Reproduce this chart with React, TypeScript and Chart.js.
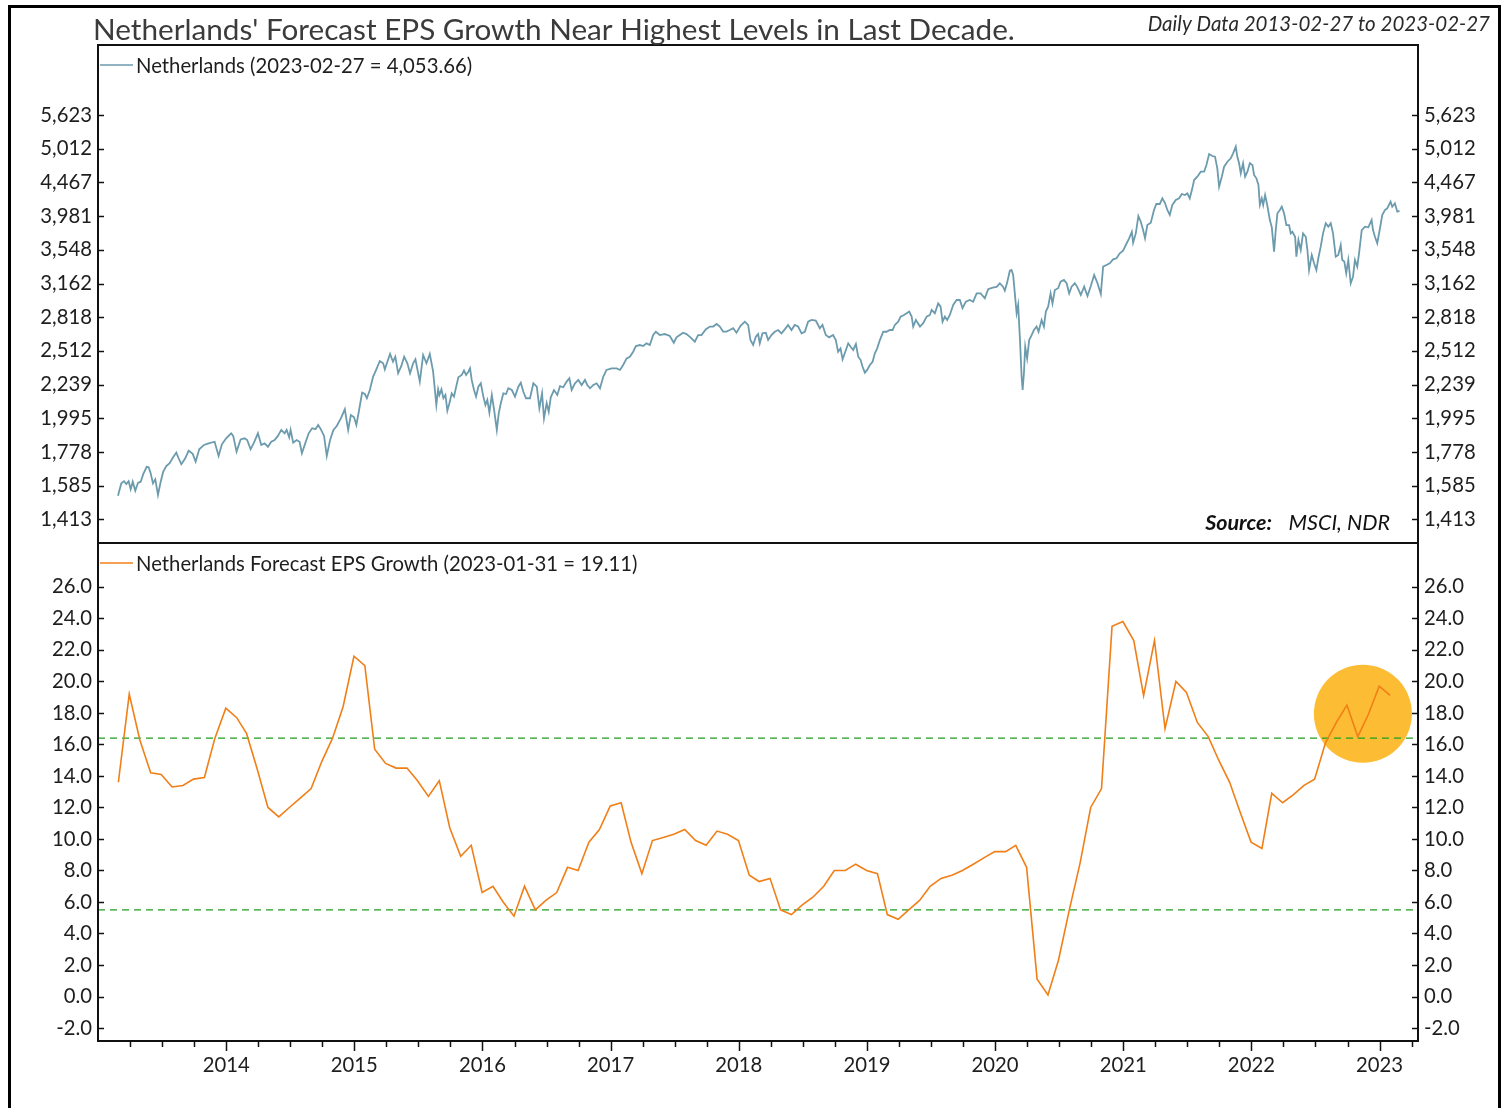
import React, { useEffect, useRef } from "react";
import { Chart, registerables } from "chart.js";
Chart.register(...registerables);

const FONT = "Lato, 'Noto Sans', sans-serif";

// ---------- Top panel: Netherlands index (log scale), dates as decimal years ----------
const indexDates = [
  2013.156, 2013.161, 2013.182, 2013.203, 2013.221, 2013.239, 2013.255, 2013.271, 2013.291, 2013.312,
  2013.333, 2013.353, 2013.380, 2013.395, 2013.411, 2013.429, 2013.447, 2013.468, 2013.489, 2013.509,
  2013.533, 2013.559, 2013.585, 2013.611, 2013.629, 2013.650, 2013.681, 2013.707, 2013.739, 2013.762,
  2013.790, 2013.827, 2013.863, 2013.910, 2013.941, 2013.967, 2014.000, 2014.039, 2014.055, 2014.081,
  2014.113, 2014.144, 2014.164, 2014.191, 2014.217, 2014.248, 2014.274, 2014.300, 2014.326, 2014.352,
  2014.378, 2014.404, 2014.430, 2014.456, 2014.472, 2014.492, 2014.503, 2014.523, 2014.550, 2014.573,
  2014.591, 2014.617, 2014.644, 2014.671, 2014.697, 2014.718, 2014.738, 2014.764, 2014.785, 2014.811,
  2014.837, 2014.863, 2014.895, 2014.926, 2014.952, 2014.973, 2014.998, 2015.016, 2015.035, 2015.061,
  2015.082, 2015.098, 2015.121, 2015.147, 2015.172, 2015.199, 2015.225, 2015.238, 2015.258, 2015.279,
  2015.302, 2015.320, 2015.342, 2015.367, 2015.389, 2015.414, 2015.435, 2015.459, 2015.477, 2015.511,
  2015.537, 2015.563, 2015.589, 2015.615, 2015.640, 2015.654,
  2015.664, 2015.680, 2015.695, 2015.711, 2015.726, 2015.742, 2015.760, 2015.778, 2015.794, 2015.812,
  2015.838, 2015.856, 2015.872, 2015.890, 2015.903, 2015.916, 2015.934, 2015.950, 2015.968, 2015.987,
  2016.007, 2016.023, 2016.038, 2016.054, 2016.073, 2016.091, 2016.112, 2016.127, 2016.143, 2016.163,
  2016.184, 2016.202, 2016.229, 2016.254, 2016.280, 2016.299, 2016.319, 2016.340, 2016.371, 2016.397,
  2016.424, 2016.444, 2016.465, 2016.480, 2016.501, 2016.517, 2016.533, 2016.558, 2016.584, 2016.605,
  2016.631, 2016.657, 2016.678, 2016.696, 2016.722, 2016.748, 2016.774, 2016.800, 2016.818, 2016.839,
  2016.865, 2016.891, 2016.917, 2016.943, 2016.968, 2017.008, 2017.047, 2017.073, 2017.098, 2017.125,
  2017.150, 2017.176, 2017.197, 2017.228, 2017.254, 2017.280, 2017.306, 2017.332, 2017.353, 2017.384,
  2017.423, 2017.462, 2017.493, 2017.514, 2017.540, 2017.566, 2017.592, 2017.623, 2017.657, 2017.683,
  2017.709, 2017.744, 2017.775, 2017.800, 2017.827, 2017.852, 2017.878, 2017.904, 2017.930, 2017.956,
  2017.982, 2018.014, 2018.047, 2018.073, 2018.091, 2018.112, 2018.133, 2018.151,
  2018.164, 2018.185, 2018.211, 2018.229, 2018.255, 2018.281, 2018.307, 2018.333, 2018.359, 2018.385,
  2018.411, 2018.437, 2018.463, 2018.490, 2018.515, 2018.541, 2018.568, 2018.601, 2018.632, 2018.653,
  2018.679, 2018.705, 2018.736, 2018.757, 2018.775, 2018.794, 2018.810, 2018.836, 2018.854, 2018.873,
  2018.893, 2018.914, 2018.932, 2018.951, 2018.966, 2018.984, 2019.002, 2019.023, 2019.044, 2019.062,
  2019.080, 2019.101, 2019.127, 2019.153, 2019.179, 2019.200, 2019.218, 2019.244, 2019.263, 2019.289,
  2019.310, 2019.330, 2019.349, 2019.361, 2019.382, 2019.414, 2019.439, 2019.466, 2019.491, 2019.505,
  2019.530, 2019.556, 2019.575, 2019.590, 2019.608, 2019.626, 2019.647, 2019.673, 2019.700, 2019.725,
  2019.746, 2019.772, 2019.803, 2019.829, 2019.856, 2019.887, 2019.920, 2019.946, 2019.981, 2020.012,
  2020.037, 2020.063, 2020.076, 2020.094, 2020.115, 2020.128, 2020.141, 2020.154, 2020.168, 2020.180,
  2020.194, 2020.207, 2020.215, 2020.225, 2020.235, 2020.250, 2020.266, 2020.285, 2020.303, 2020.324,
  2020.339, 2020.363, 2020.381, 2020.396, 2020.414, 2020.433, 2020.448, 2020.466, 2020.492, 2020.511,
  2020.537, 2020.558, 2020.578, 2020.597, 2020.622, 2020.640,
  2020.669, 2020.695, 2020.721, 2020.747, 2020.773, 2020.799, 2020.825, 2020.843, 2020.869, 2020.895,
  2020.921, 2020.947, 2020.973, 2020.999, 2021.020, 2021.046, 2021.067, 2021.077, 2021.098, 2021.118,
  2021.137, 2021.155, 2021.170, 2021.188, 2021.215, 2021.240, 2021.258, 2021.285, 2021.305, 2021.326,
  2021.344, 2021.363, 2021.383, 2021.410, 2021.436, 2021.457, 2021.482, 2021.500, 2021.519, 2021.539,
  2021.553, 2021.578, 2021.605, 2021.631, 2021.649, 2021.670, 2021.695, 2021.716, 2021.734, 2021.748,
  2021.769, 2021.787, 2021.813, 2021.839, 2021.857, 2021.878, 2021.891, 2021.904, 2021.917, 2021.935,
  2021.951, 2021.969, 2021.988, 2022.008, 2022.021, 2022.039, 2022.055, 2022.066, 2022.081, 2022.092,
  2022.107, 2022.125, 2022.144, 2022.159, 2022.177, 2022.190, 2022.203, 2022.222, 2022.237, 2022.255,
  2022.273, 2022.294, 2022.307, 2022.320, 2022.341, 2022.351, 2022.367, 2022.385, 2022.403, 2022.424,
  2022.437, 2022.450, 2022.471, 2022.489, 2022.507, 2022.522, 2022.541, 2022.559, 2022.580, 2022.600,
  2022.619, 2022.637, 2022.658, 2022.678, 2022.697, 2022.709, 2022.725, 2022.740, 2022.756, 2022.775,
  2022.793, 2022.808, 2022.826, 2022.840, 2022.861, 2022.886, 2022.912, 2022.938, 2022.949, 2022.964,
  2022.982, 2023.001, 2023.021, 2023.042, 2023.060, 2023.086, 2023.099, 2023.120, 2023.138, 2023.156,
];

const indexValues = [
  1532, 1545, 1598, 1610, 1594, 1610, 1566, 1607, 1558, 1601,
  1607, 1649, 1691, 1688, 1654, 1598, 1620, 1536, 1607, 1663,
  1695, 1712, 1745, 1775, 1741, 1706, 1741, 1787, 1767, 1721,
  1795, 1822, 1832, 1842, 1755, 1826, 1864, 1896, 1879, 1781,
  1857, 1864, 1853, 1795, 1836, 1896, 1822, 1832, 1811, 1842,
  1853, 1879, 1918, 1896, 1918, 1870, 1918, 1836, 1853, 1842,
  1771, 1832, 1896, 1929, 1923, 1951, 1923, 1879, 1755, 1853,
  1918, 1944, 1995, 2058, 1918, 2018, 2002, 1951, 2041, 2178,
  2168, 2137, 2198, 2301, 2359, 2427, 2408, 2359, 2421, 2486,
  2421, 2463, 2328, 2386, 2463, 2408, 2328, 2408, 2441, 2262,
  2477, 2408, 2486, 2340, 2089, 2203,
  2161, 2203, 2137, 2161, 2048, 2101, 2173, 2149, 2219, 2296,
  2314, 2349, 2314, 2340, 2367, 2275, 2198, 2149, 2223, 2249,
  2149, 2089, 2125, 2034, 2161, 2053, 1918, 2030, 2101, 2173,
  2168, 2211, 2198, 2149, 2223, 2254, 2185, 2137, 2137, 2249,
  2223, 2066, 2173, 1995, 2101, 2041, 2144, 2198, 2161, 2228,
  2219, 2262, 2288, 2198, 2249, 2275, 2236, 2275, 2236, 2211,
  2236, 2249, 2211, 2301, 2354, 2367, 2367, 2354, 2394, 2449,
  2463, 2505, 2554, 2563, 2554, 2578, 2563, 2652, 2682, 2652,
  2661, 2643, 2583, 2631, 2652, 2673, 2661, 2631, 2592, 2652,
  2652, 2705, 2730, 2730, 2754, 2730, 2684, 2684, 2698, 2714,
  2673, 2736, 2776, 2745, 2607, 2563, 2637, 2661,
  2578, 2667, 2673, 2607, 2652, 2682, 2698, 2667, 2704, 2745,
  2698, 2745, 2730, 2667, 2682, 2776, 2792, 2786, 2714, 2745,
  2652, 2631, 2652, 2607, 2505, 2534, 2441, 2520, 2578, 2548,
  2520, 2572, 2463, 2435, 2380, 2332, 2354, 2394, 2421, 2492,
  2534, 2607, 2682, 2682, 2698, 2698, 2745, 2776, 2824, 2840,
  2857, 2873, 2824, 2730, 2792, 2730, 2761, 2824, 2840, 2889,
  2857, 2955, 2922, 2776, 2824, 2792, 2840, 2939, 2989, 2989,
  2906, 2972, 2989, 2972, 3058, 3058, 3007, 3101, 3119, 3126,
  3165, 3126, 3086, 3172, 3304, 3312, 3256, 3058, 2857, 2939,
  2613, 2301, 2198, 2328, 2548, 2449, 2607, 2652, 2698, 2730,
  2682, 2792, 2730, 2873, 2922, 3058, 2955, 3093, 3112, 3183,
  3201, 3165, 3058, 3129, 3165, 3129,
  3041, 3129, 3031, 3136, 3256, 3165, 3051, 3350, 3369, 3389,
  3435, 3447, 3506, 3538, 3607, 3690, 3774, 3635, 3753, 3982,
  3905, 3796, 3690, 3861, 3892, 4065, 4149, 4149, 4230, 4162,
  4065, 3996, 4135, 4206, 4230, 4293, 4278, 4303, 4230, 4377,
  4503, 4555, 4633, 4633, 4740, 4921, 4888, 4877, 4687, 4401,
  4555, 4713, 4794, 4850, 4933, 5046, 4867, 4768, 4608, 4768,
  4555, 4633, 4768, 4740, 4581, 4530, 4427, 4135, 4230, 4135,
  4278, 4121, 3928, 3834, 3526, 3796, 4019, 4065, 4111, 4019,
  3861, 3861, 3753, 3774, 3710, 3466, 3669, 3546, 3753, 3710,
  3546, 3312, 3486, 3389, 3312, 3447, 3586, 3753, 3885, 3840,
  3885, 3753, 3466, 3486, 3607, 3427, 3408, 3275, 3427, 3165,
  3237, 3427, 3350, 3506, 3796, 3840, 3832, 3928, 3796, 3710,
  3629, 3796, 3996, 4065, 4088, 4182, 4111, 4158, 4042, 4053.66,
];

const indexTicks = [1413, 1585, 1778, 1995, 2239, 2512, 2818, 3162, 3548, 3981, 4467, 5012, 5623];

// ---------- Bottom panel: monthly forecast EPS growth, Feb 2013 .. Jan 2023 ----------
const epsStartYear = 2013;
const epsStartMonth = 2; // February
const epsValues = [
  13.6, 19.2, 16.3, 14.2, 14.1, 13.3, 13.4, 13.8, 13.9, 16.4, 18.3,
  17.7, 16.7, 14.4, 12.0, 11.4, 12.0, 12.6, 13.2, 14.9, 16.4, 18.4, 21.6,
  21.0, 15.7, 14.8, 14.5, 14.5, 13.7, 12.7, 13.7, 10.7, 8.9, 9.6, 6.6,
  7.0, 6.0, 5.1, 7.0, 5.5, 6.1, 6.6, 8.2, 8.0, 9.8, 10.6, 12.1,
  12.3, 9.8, 7.8, 9.9, 10.1, 10.3, 10.6, 9.9, 9.6, 10.5, 10.3, 9.9,
  7.7, 7.3, 7.5, 5.5, 5.2, 5.8, 6.3, 7.0, 8.0, 8.0, 8.4, 8.0,
  7.8, 5.2, 4.9, 5.5, 6.1, 7.0, 7.5, 7.7, 8.0, 8.4, 8.8, 9.2,
  9.2, 9.6, 8.2, 1.1, 0.1, 2.3, 5.5, 8.5, 12.0, 13.2, 23.5, 23.8,
  22.6, 19.1, 22.6, 17.0, 20.0, 19.3, 17.4, 16.5, 15.0, 13.6, 11.7, 9.8,
  9.4, 12.9, 12.3, 12.8, 13.4, 13.8, 16.1, 17.4, 18.5, 16.5, 17.9, 19.7,
  19.11,
];
const epsTicks = [-2, 0, 2, 4, 6, 8, 10, 12, 14, 16, 18, 20, 22, 24, 26];
const epsUpperBand = 16.4;
const epsLowerBand = 5.5;
const highlightDate = 2022.87;
const highlightValue = 17.95;

const yearTicks = [2014, 2015, 2016, 2017, 2018, 2019, 2020, 2021, 2022, 2023];
const X_MIN = 2013.0;
const X_MAX = 2023.3;

const TOP_MIN = Math.pow(10, 3.1151);
const TOP_MAX = Math.pow(10, 3.8538);
const BOT_MIN = -2.825;
const BOT_MAX = 28.79;

const INDEX_COLOR = "#6c9bae";
const EPS_COLOR = "#f07f17";
const BAND_COLOR = "#1f9e1f";
const LABEL_SIZE = 20.3;

function yearFrac(y: number, m: number, d: number) {
  const s = new Date(y, 0, 1).getTime();
  const e = new Date(y + 1, 0, 1).getTime();
  return y + (new Date(y, m - 1, d).getTime() - s) / (e - s);
}
function monthEndFrac(i: number) {
  const m0 = epsStartMonth - 1 + i;
  const y = epsStartYear + Math.floor(m0 / 12);
  const m = (m0 % 12) + 1;
  const last = new Date(y, m, 0).getDate();
  return yearFrac(y, m, last);
}

const W = 1509;
const TOP_H = 575;
const BOT_TOP = 515;
const BOT_H = 1108 - BOT_TOP;
const AREA_LEFT = 98;
const AREA_RIGHT = 1418;

function line(ctx: CanvasRenderingContext2D, x1: number, y1: number, x2: number, y2: number) {
  ctx.beginPath();
  ctx.moveTo(x1, y1);
  ctx.lineTo(x2, y2);
  ctx.stroke();
}

function yAxis(position: "left" | "right", type: string, min: number, max: number, ticks: number[], fmt: (v: number) => string) {
  return {
    type,
    position,
    min,
    max,
    afterFit: (s: any) => {
      s.width = position === "left" ? AREA_LEFT : W - AREA_RIGHT;
    },
    afterBuildTicks: (s: any) => {
      s.ticks = ticks.map((v) => ({ value: v }));
    },
    ticks: {
      autoSkip: false,
      callback: (v: any) => fmt(Number(v)),
      font: { family: FONT, size: LABEL_SIZE },
      color: "#1e1e1e",
      padding: 6,
    },
    grid: { display: false, drawTicks: false },
    border: { display: false },
  };
}

function drawFrameAndYTicks(chart: any, scaleId: string) {
  const { ctx, chartArea: a } = chart;
  const s = chart.scales[scaleId];
  ctx.save();
  ctx.strokeStyle = "#111";
  ctx.lineWidth = 1.5;
  for (const t of s.ticks) {
    const y = Math.round(s.getPixelForValue(t.value)) + 0.5;
    line(ctx, a.left, y, a.left + 6, y);
    line(ctx, a.right - 6, y, a.right, y);
  }
  ctx.lineWidth = 2;
  ctx.strokeRect(a.left, a.top, a.right - a.left, a.bottom - a.top);
  ctx.restore();
}

function drawLegend(ctx: CanvasRenderingContext2D, y: number, color: string, text: string) {
  ctx.save();
  ctx.strokeStyle = color;
  ctx.lineWidth = 1.5;
  line(ctx, 100, y, 133, y);
  ctx.fillStyle = "#1e1e1e";
  ctx.font = `${LABEL_SIZE}px ${FONT}`;
  ctx.textBaseline = "middle";
  ctx.textAlign = "left";
  ctx.fillText(text, 136, y + 1);
  ctx.restore();
}

const topDecor = {
  id: "topDecor",
  afterDraw(chart: any) {
    const { ctx } = chart;
    drawFrameAndYTicks(chart, "yL");
    ctx.save();
    ctx.fillStyle = "#3b3b3b";
    ctx.font = `29.7px ${FONT}`;
    ctx.textBaseline = "alphabetic";
    ctx.textAlign = "left";
    ctx.fillText("Netherlands' Forecast EPS Growth Near Highest Levels in Last Decade.", 93, 40);
    ctx.font = `italic 20.5px ${FONT}`;
    ctx.textAlign = "right";
    ctx.fillStyle = "#2a2a2a";
    ctx.fillText("Daily Data 2013-02-27 to 2023-02-27", 1490, 31);
    // source
    ctx.fillStyle = "#111";
    ctx.font = `italic 21.5px ${FONT}`;
    ctx.fillText("MSCI, NDR", 1390, 530);
    ctx.font = `bold italic 21.5px ${FONT}`;
    ctx.fillText("Source:", 1272, 530);
    ctx.restore();
    drawLegend(ctx, 65, INDEX_COLOR, "Netherlands (2023-02-27 = 4,053.66)");
  },
};

const botDecor = {
  id: "botDecor",
  afterDraw(chart: any) {
    const { ctx, chartArea: a } = chart;
    drawFrameAndYTicks(chart, "yL");
    const xs = chart.scales.x;
    ctx.save();
    ctx.strokeStyle = "#111";
    ctx.lineWidth = 1.5;
    for (let y = 2013; y <= 2023; y++) {
      for (let q = 0; q < 4; q++) {
        const v = y + q * 0.25;
        if (v <= X_MIN || v >= X_MAX) continue;
        const x = Math.round(xs.getPixelForValue(v)) + 0.5;
        line(ctx, x, a.bottom, x, a.bottom + (q === 0 ? 10 : 6));
      }
    }
    ctx.restore();
    drawLegend(ctx, 563 - BOT_TOP, EPS_COLOR, "Netherlands Forecast EPS Growth (2023-01-31 = 19.11)");
  },
};

export default function App() {
  const topRef = useRef<HTMLCanvasElement>(null);
  const botRef = useRef<HTMLCanvasElement>(null);

  useEffect(() => {
    Chart.defaults.font.family = FONT;
    const topChart = new Chart(topRef.current as HTMLCanvasElement, {
      type: "line",
      data: {
        datasets: [
          {
            data: indexDates.map((d, i) => ({ x: d, y: indexValues[i] })),
            borderColor: INDEX_COLOR,
            borderWidth: 1.8,
            pointRadius: 0,
            tension: 0,
            yAxisID: "yL",
          },
        ],
      },
      options: {
        animation: false,
        responsive: false,
        maintainAspectRatio: false,
        layout: { autoPadding: false, padding: { top: 45, bottom: TOP_H - 543, left: 0, right: 0 } },
        plugins: { legend: { display: false }, tooltip: { enabled: false }, title: { display: false } },
        scales: {
          x: { type: "linear", min: X_MIN, max: X_MAX, display: false },
          yL: yAxis("left", "logarithmic", TOP_MIN, TOP_MAX, indexTicks, (v) => Math.round(v).toLocaleString("en-US")) as any,
          yR: yAxis("right", "logarithmic", TOP_MIN, TOP_MAX, indexTicks, (v) => Math.round(v).toLocaleString("en-US")) as any,
        },
      } as any,
      plugins: [topDecor],
    });

    const epsData = epsValues.map((v, i) => ({ x: monthEndFrac(i), y: v }));
    const botChart = new Chart(botRef.current as HTMLCanvasElement, {
      type: "line",
      data: {
        datasets: [
          {
            type: "scatter",
            data: [{ x: highlightDate, y: highlightValue }],
            pointRadius: 49,
            pointBackgroundColor: "rgba(252, 182, 34, 0.92)",
            pointBorderWidth: 0,
            pointBorderColor: "rgba(0,0,0,0)",
            order: 3,
            yAxisID: "yL",
          } as any,
          {
            data: [
              { x: X_MIN, y: epsUpperBand },
              { x: X_MAX, y: epsUpperBand },
            ],
            borderColor: BAND_COLOR,
            borderWidth: 1.3,
            borderDash: [7, 5],
            pointRadius: 0,
            order: 2,
            yAxisID: "yL",
          },
          {
            data: [
              { x: X_MIN, y: epsLowerBand },
              { x: X_MAX, y: epsLowerBand },
            ],
            borderColor: BAND_COLOR,
            borderWidth: 1.3,
            borderDash: [7, 5],
            pointRadius: 0,
            order: 2,
            yAxisID: "yL",
          },
          {
            data: epsData,
            borderColor: EPS_COLOR,
            borderWidth: 1.6,
            pointRadius: 0,
            tension: 0,
            order: 1,
            yAxisID: "yL",
          },
        ],
      },
      options: {
        animation: false,
        responsive: false,
        maintainAspectRatio: false,
        layout: { autoPadding: false, padding: { top: 543 - BOT_TOP, bottom: 0, left: 0, right: 0 } },
        plugins: { legend: { display: false }, tooltip: { enabled: false }, title: { display: false } },
        scales: {
          x: {
            type: "linear",
            min: X_MIN,
            max: X_MAX,
            position: "bottom",
            afterFit: (s: any) => {
              s.height = BOT_TOP + BOT_H - 1041;
            },
            afterBuildTicks: (s: any) => {
              s.ticks = yearTicks.map((v) => ({ value: v }));
            },
            ticks: {
              autoSkip: false,
              maxRotation: 0,
              callback: (v: any) => String(v),
              font: { family: FONT, size: LABEL_SIZE },
              color: "#1e1e1e",
              padding: 12,
            },
            grid: { display: false, drawTicks: false },
            border: { display: false },
          },
          yL: yAxis("left", "linear", BOT_MIN, BOT_MAX, epsTicks, (v) => v.toFixed(1)) as any,
          yR: yAxis("right", "linear", BOT_MIN, BOT_MAX, epsTicks, (v) => v.toFixed(1)) as any,
        },
      } as any,
      plugins: [botDecor],
    });

    return () => {
      topChart.destroy();
      botChart.destroy();
    };
  }, []);

  return (
    <div style={{ position: "absolute", left: 0, top: 0, width: W, height: 1108, overflow: "hidden", background: "#fff" }}>
      <div
        style={{
          position: "absolute",
          left: 8,
          top: 5,
          width: 1493,
          height: 1200,
          boxSizing: "border-box",
          borderLeft: "3px solid #000",
          borderTop: "3px solid #000",
          borderRight: "3px solid #000",
        }}
      />
      <canvas ref={topRef} width={W} height={TOP_H} style={{ position: "absolute", left: 0, top: 0, width: W, height: TOP_H }} />
      <canvas ref={botRef} width={W} height={BOT_H} style={{ position: "absolute", left: 0, top: BOT_TOP, width: W, height: BOT_H }} />
    </div>
  );
}
